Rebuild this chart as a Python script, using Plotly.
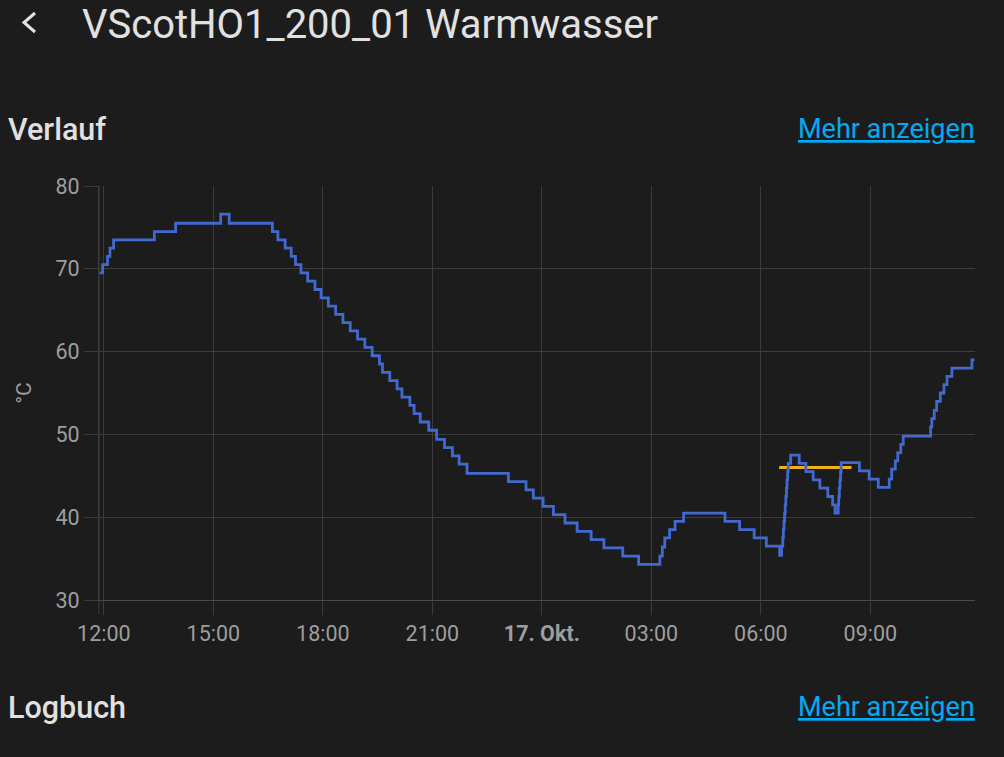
import plotly.graph_objects as go

# ---------------- data ----------------
temp_times = [
    "2023-10-16 11:53", "2023-10-16 11:58", "2023-10-16 12:06", "2023-10-16 12:10",
    "2023-10-16 12:16", "2023-10-16 13:23", "2023-10-16 13:58", "2023-10-16 15:12",
    "2023-10-16 15:26", "2023-10-16 16:37", "2023-10-16 16:46", "2023-10-16 16:58",
    "2023-10-16 17:08", "2023-10-16 17:15", "2023-10-16 17:24", "2023-10-16 17:35",
    "2023-10-16 17:47", "2023-10-16 17:57", "2023-10-16 18:09", "2023-10-16 18:21",
    "2023-10-16 18:33", "2023-10-16 18:45", "2023-10-16 18:57", "2023-10-16 19:09",
    "2023-10-16 19:21", "2023-10-16 19:33", "2023-10-16 19:38", "2023-10-16 19:50",
    "2023-10-16 20:02", "2023-10-16 20:10", "2023-10-16 20:23", "2023-10-16 20:30",
    "2023-10-16 20:40", "2023-10-16 20:54", "2023-10-16 21:07", "2023-10-16 21:20",
    "2023-10-16 21:33", "2023-10-16 21:44", "2023-10-16 21:57", "2023-10-16 23:05",
    "2023-10-16 23:34", "2023-10-16 23:46",
    "2023-10-17 00:02", "2023-10-17 00:19", "2023-10-17 00:38", "2023-10-17 00:58",
    "2023-10-17 01:21", "2023-10-17 01:42", "2023-10-17 02:13", "2023-10-17 02:39",
    "2023-10-17 03:14", "2023-10-17 03:18", "2023-10-17 03:22", "2023-10-17 03:30",
    "2023-10-17 03:39", "2023-10-17 03:53", "2023-10-17 05:01", "2023-10-17 05:25",
    "2023-10-17 05:49", "2023-10-17 06:09", "2023-10-17 06:31", "2023-10-17 06:34",
    "2023-10-17 06:36", "2023-10-17 06:37", "2023-10-17 06:38", "2023-10-17 06:39",
    "2023-10-17 06:40", "2023-10-17 06:41", "2023-10-17 06:42", "2023-10-17 06:43",
    "2023-10-17 06:44", "2023-10-17 06:45", "2023-10-17 06:49", "2023-10-17 07:03",
    "2023-10-17 07:14", "2023-10-17 07:26", "2023-10-17 07:37", "2023-10-17 07:50",
    "2023-10-17 07:58", "2023-10-17 08:02", "2023-10-17 08:07", "2023-10-17 08:08",
    "2023-10-17 08:09", "2023-10-17 08:10", "2023-10-17 08:11", "2023-10-17 08:12",
    "2023-10-17 08:42", "2023-10-17 08:58", "2023-10-17 09:13", "2023-10-17 09:31",
    "2023-10-17 09:35", "2023-10-17 09:41", "2023-10-17 09:45", "2023-10-17 09:50",
    "2023-10-17 09:54", "2023-10-17 10:39", "2023-10-17 10:41", "2023-10-17 10:45",
    "2023-10-17 10:49", "2023-10-17 10:55", "2023-10-17 11:01", "2023-10-17 11:06",
    "2023-10-17 11:14", "2023-10-17 11:47", "2023-10-17 11:51",
]
temp_values = [
    69.5, 70.5, 71.5, 72.5,
    73.5, 74.5, 75.5, 76.6,
    75.5, 74.5, 73.5, 72.5,
    71.5, 70.5, 69.5, 68.5,
    67.5, 66.5, 65.5, 64.5,
    63.5, 62.5, 61.5, 60.5,
    59.5, 58.5, 57.5, 56.5,
    55.5, 54.5, 53.5, 52.5,
    51.5, 50.5, 49.4, 48.4,
    47.4, 46.4, 45.3, 44.3,
    43.3, 42.3,
    41.3, 40.3, 39.3, 38.3,
    37.3, 36.3, 35.3, 34.3,
    35.3, 36.4, 37.5, 38.5,
    39.5, 40.5, 39.5, 38.5,
    37.5, 36.5, 35.4, 36.5,
    37.5, 38.5, 39.5, 40.5,
    41.5, 42.5, 43.5, 44.5,
    45.5, 46.5, 47.5, 46.5,
    45.5, 44.5, 43.5, 42.5,
    41.5, 40.5, 41.5, 42.5,
    43.5, 44.5, 45.5, 46.6,
    45.6, 44.6, 43.6, 44.6,
    45.8, 46.8, 47.8, 48.8,
    49.8, 50.9, 51.9, 52.9,
    54.0, 55.0, 56.0, 57.0,
    58.0, 59.0, 59.0,
]

target_times = ["2023-10-17 06:30", "2023-10-17 08:29"]
target_values = [46.0, 46.0]

x_range = ["2023-10-16 11:52", "2023-10-17 11:52"]
x_tick_vals = ["2023-10-16 12:00", "2023-10-16 15:00", "2023-10-16 18:00", "2023-10-16 21:00",
               "2023-10-17 00:00", "2023-10-17 03:00", "2023-10-17 06:00", "2023-10-17 09:00"]
x_tick_text = ["12:00", "15:00", "18:00", "21:00", "<b>17. Okt.</b>", "03:00", "06:00", "09:00"]
y_tick_vals = [30, 40, 50, 60, 70, 80]

page_title = "VScotHO1_200_01 Warmwasser"
section1 = "Verlauf"
section2 = "Logbuch"
link_text = "Mehr anzeigen"
unit = "°C"

# ---------------- layout constants (pixels) ----------------
W, H = 1004, 757
L, R, T, B = 99, 975, 186, 600
BG = "#1c1c1c"
GRID = "#3c3c3c"
TICKC = "#9e9e9e"
FONT = "Roboto"


def px(x, y):
    return (x - L) / (R - L), (B - y) / (B - T)


fig = go.Figure()
fig.add_trace(go.Scatter(x=target_times, y=target_values, mode="lines",
                         line=dict(color="#efb118", width=2.8), hoverinfo="skip"))
fig.add_trace(go.Scatter(x=temp_times, y=temp_values, mode="lines",
                         line=dict(color="#4269d0", width=2.8, shape="hv"), hoverinfo="skip"))

fig.update_layout(
    width=W, height=H, autosize=False,
    margin=dict(l=L, r=W - R, t=T, b=H - B, pad=0),
    paper_bgcolor=BG, plot_bgcolor=BG,
    showlegend=False,
    font=dict(family=FONT, color=TICKC),
)

fig.update_xaxes(
    type="date", range=x_range, tickmode="array", tickvals=x_tick_vals, ticktext=x_tick_text,
    showgrid=True, gridcolor=GRID, gridwidth=1,
    ticks="outside", ticklen=14, tickcolor=GRID, tickwidth=1,
    tickfont=dict(family=FONT, size=21.5, color=TICKC),
    showline=True, linecolor="#4a4a4a", linewidth=1,
    zeroline=False, fixedrange=True,
)
fig.update_yaxes(
    range=[30, 80], tickmode="array", tickvals=y_tick_vals,
    showgrid=True, gridcolor=GRID, gridwidth=1,
    ticks="outside", ticklen=14, tickcolor=GRID, tickwidth=1,
    tickfont=dict(family=FONT, size=21.5, color=TICKC),
    showline=True, linecolor=GRID, linewidth=1,
    zeroline=False, fixedrange=True,
    title=dict(text=unit, font=dict(family=FONT, size=21, color=TICKC), standoff=18),
)

# left edge line extending through the tick zone
fig.add_shape(type="line", xref="x domain", yref="y domain", x0=0, x1=0, y0=-14 / (B - T), y1=1,
              line=dict(color=GRID, width=1), layer="below")

# back chevron
p1, p2, p3 = px(35, 13), px(24, 22.5), px(35, 32)
fig.add_shape(type="path", xref="paper", yref="paper",
              path=f"M {p1[0]},{p1[1]} L {p2[0]},{p2[1]} L {p3[0]},{p3[1]}",
              line=dict(color="#e1e1e1", width=3))


def ann(text, x, y, size, color, xanchor="left", weight=400, underline=False):
    ax, ay = px(x, y)
    font = dict(family=FONT, size=size, color=color, weight=weight)
    if underline:
        font["lineposition"] = "under"
    fig.add_annotation(text=text, xref="paper", yref="paper", x=ax, y=ay,
                       xanchor=xanchor, yanchor="middle", showarrow=False, font=font)


ann(page_title, 80, 24, 40, "#e1e1e1")
ann(section1, 6, 129, 30.5, "#e1e1e1", weight=500)
ann(link_text, 977, 129, 27, "#03a9f4", xanchor="right", underline=True)
ann(section2, 6, 707, 30.5, "#e1e1e1", weight=500)
ann(link_text, 977, 707, 27, "#03a9f4", xanchor="right", underline=True)

fig.write_html(
    "out.html",
    config={"displayModeBar": False, "staticPlot": True},
    post_script="document.body.style.margin='0';document.body.style.background='#1c1c1c';document.documentElement.style.background='#1c1c1c';",
)
